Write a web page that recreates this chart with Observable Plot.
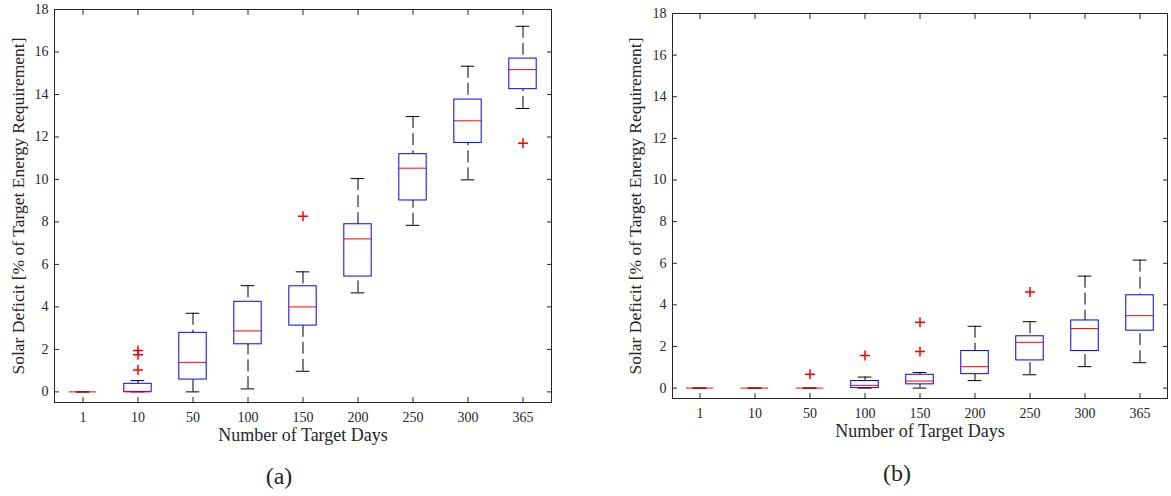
<!DOCTYPE html>
<html><head><meta charset="utf-8">
<script src="https://cdn.jsdelivr.net/npm/d3@7"></script>
<script src="https://cdn.jsdelivr.net/npm/@observablehq/plot@0.6"></script>
<style>
body{margin:0;background:#fff;}
#wrap{position:relative;width:1171px;height:496px;font-family:"Liberation Serif",serif;color:#262626;background:#fff;overflow:hidden;}
.panel{position:absolute;top:0;}
.cap{position:absolute;font-size:24px;transform:translate(-50%,-50%);white-space:nowrap;}
</style></head><body>
<div id="wrap">
  <div class="panel" id="pa" style="left:0px"></div>
  <div class="panel" id="pb" style="left:600px"></div>
  <div class="cap" style="left:279px;top:476px">(a)</div>
  <div class="cap" style="left:897px;top:473px">(b)</div>
</div>
<script>
// ---- data ----
const days = ["1","10","50","100","150","200","250","300","365"];
const yTicks = [0,2,4,6,8,10,12,14,16,18];
const yDomain = [-0.5, 18];
const xLabel = "Number of Target Days";
const yLabel = "Solar Deficit [% of Target Energy Requirement]";

// panel (a)
const aLo  = [0, 0,    0,    0.14, 0.97, 4.66, 7.84,  9.98, 13.34];
const aQ1  = [0, 0,    0.58, 2.24, 3.12, 5.43, 9.01, 11.72, 14.25];
const aMed = [0, 0,    1.39, 2.87, 4.00, 7.20, 10.53, 12.76, 15.17];
const aQ3  = [0, 0.38, 2.78, 4.24, 4.97, 7.89, 11.19, 13.76, 15.69];
const aHi  = [0, 0.53, 3.70, 5.00, 5.65, 10.04, 12.96, 15.33, 17.21];
const aOutDay = ["10","10","10","150","365"];
const aOutVal = [1.95, 1.75, 1.03, 8.27, 11.70];

// panel (b)
const bLo  = [0, 0, 0, 0,    0,    0.36, 0.64, 1.03, 1.22];
const bQ1  = [0, 0, 0, 0,    0.18, 0.67, 1.33, 1.78, 2.76];
const bMed = [0, 0, 0, 0.13, 0.34, 1.03, 2.20, 2.86, 3.48];
const bQ3  = [0, 0, 0, 0.34, 0.64, 1.78, 2.49, 3.25, 4.46];
const bHi  = [0, 0, 0, 0.53, 0.75, 2.97, 3.19, 5.38, 6.15];
const bOutDay = ["50","100","150","150","250"];
const bOutVal = [0.66, 1.57, 3.16, 1.76, 4.62];

// ---- build ----
const plus = {draw(ctx, size){ const r = Math.sqrt(size/Math.PI); ctx.moveTo(-r,0); ctx.lineTo(r,0); ctx.moveTo(0,-r); ctx.lineTo(0,r); }};

function rowsOf(lo,q1,med,q3,hi){ return days.map((d,i)=>({day:d, lo:lo[i], q1:q1[i], med:med[i], q3:q3[i], hi:hi[i]})); }
function outsOf(ds,vs){ return ds.map((d,i)=>({day:d, v:vs[i]})); }

function boxPlot({rows, outliers, width, height, marginLeft, marginRight, marginTop, marginBottom, ylDx}) {
  const step = (width - marginLeft - marginRight) / days.length;
  const boxInset = step / 4;
  const capInset = step * 3 / 8;
  return Plot.plot({
    width, height, marginLeft, marginRight, marginTop, marginBottom,
    style: {fontFamily: '"Liberation Serif", serif', fontSize: "14px", color: "#262626", background: "transparent", overflow: "visible"},
    x: {type: "band", domain: days, padding: 0},
    y: {domain: yDomain},
    marks: [
      Plot.ruleX(rows, {x:"day", y1:"hi", y2:"q3", stroke:"#000", strokeDasharray:"12,5"}),
      Plot.ruleX(rows, {x:"day", y1:"lo", y2:"q1", stroke:"#000", strokeDasharray:"12,5"}),
      Plot.tickY(rows, {x:"day", y:"hi", stroke:"#000", insetLeft:capInset, insetRight:capInset}),
      Plot.tickY(rows, {x:"day", y:"lo", stroke:"#000", insetLeft:capInset, insetRight:capInset}),
      Plot.barY(rows, {x:"day", y1:"q1", y2:"q3", fill:"none", stroke:"#0000ff", insetLeft:boxInset, insetRight:boxInset}),
      Plot.tickY(rows, {x:"day", y:"med", stroke:"#ff0000", insetLeft:boxInset, insetRight:boxInset}),
      Plot.dot(outliers, {x:"day", y:"v", symbol: plus, r:5, stroke:"#ff0000", fill:"none"}),
      Plot.axisX({anchor:"bottom", tickSize:0, tickPadding:10, label:null}),
      Plot.axisX({anchor:"bottom", tickSize:-5, fill:"none", label:null}),
      Plot.axisX({anchor:"top", tickSize:-5, fill:"none", label:null}),
      Plot.axisY({anchor:"left", ticks:yTicks, tickSize:0, tickPadding:6, label:null}),
      Plot.axisY({anchor:"left", ticks:yTicks, tickSize:-5, fill:"none", label:null}),
      Plot.axisY({anchor:"right", ticks:yTicks, tickSize:-5, fill:"none", label:null}),
      Plot.frame({stroke:"#262626"}),
      Plot.text([xLabel], {text:d=>d, frameAnchor:"bottom", textAnchor:"middle", lineAnchor:"middle", dy:33, fontSize:18}),
      Plot.text([yLabel], {text:d=>d, frameAnchor:"left", textAnchor:"middle", lineAnchor:"middle", dx:ylDx, rotate:-90, fontSize:17.5})
    ]
  });
}

document.getElementById("pa").append(boxPlot({
  rows: rowsOf(aLo,aQ1,aMed,aQ3,aHi), outliers: outsOf(aOutDay,aOutVal),
  width:560, height:450, marginLeft:54, marginRight:9, marginTop:9, marginBottom:48, ylDx:-36
}));
document.getElementById("pb").append(boxPlot({
  rows: rowsOf(bLo,bQ1,bMed,bQ3,bHi), outliers: outsOf(bOutDay,bOutVal),
  width:571, height:450, marginLeft:72, marginRight:4, marginTop:13, marginBottom:52, ylDx:-37
}));
</script>
</body></html>
